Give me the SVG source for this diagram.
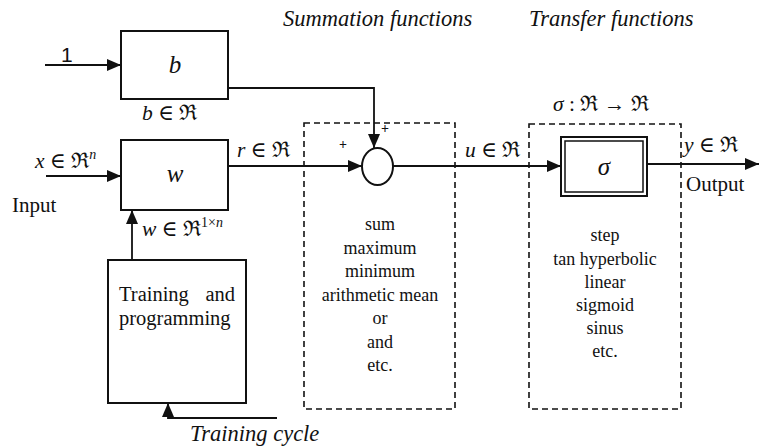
<svg xmlns="http://www.w3.org/2000/svg" width="761" height="447" viewBox="0 0 761 447">
<style>
text{font-family:"Liberation Serif","DejaVu Serif",serif;fill:#111;}
.it{font-style:italic;}
.m{font-size:21.5px;font-style:italic;}
.lst{font-size:18px;text-anchor:middle;}
.box{fill:#fff;stroke:#111;stroke-width:2;}
.dash{fill:none;stroke:#111;stroke-width:1.6;stroke-dasharray:6 4;}
.ln{fill:none;stroke:#111;stroke-width:1.8;}
</style>
<defs>
<marker id="ah" markerUnits="userSpaceOnUse" markerWidth="14" markerHeight="12" viewBox="0 0 14 12" refX="14" refY="6" orient="auto">
<path d="M0,0 L14,6 L0,12 Z" fill="#111"/>
</marker>
</defs>
<rect width="761" height="447" fill="#fff"/>

<text class="it" x="283" y="26" font-size="22.5">Summation functions</text>
<text class="it" x="529" y="26" font-size="22.5">Transfer functions</text>

<g id="summation-region">
<rect class="dash" x="304" y="123" width="151" height="286"/>
<text class="lst" x="380" y="230">sum</text>
<text class="lst" x="380" y="254">maximum</text>
<text class="lst" x="380" y="277">minimum</text>
<text class="lst" x="380" y="301">arithmetic mean</text>
<text class="lst" x="380" y="324">or</text>
<text class="lst" x="380" y="348">and</text>
<text class="lst" x="380" y="371">etc.</text>
</g>

<g id="transfer-region">
<rect class="dash" x="529" y="124" width="152" height="285"/>
<text class="lst" x="605" y="241">step</text>
<text class="lst" x="605" y="265">tan hyperbolic</text>
<text class="lst" x="605" y="288">linear</text>
<text class="lst" x="605" y="311">sigmoid</text>
<text class="lst" x="605" y="334">sinus</text>
<text class="lst" x="605" y="357">etc.</text>
</g>

<g id="connectors">
<path class="ln" d="M45,65 H121" marker-end="url(#ah)"/>
<path class="ln" d="M228,88 H374 V148" marker-end="url(#ah)"/>
<path class="ln" d="M46,176 H121" marker-end="url(#ah)"/>
<path class="ln" d="M228,166 H362" marker-end="url(#ah)"/>
<path class="ln" d="M132,260 V210" marker-end="url(#ah)"/>
<path class="ln" d="M277,418 H168 V403" marker-end="url(#ah)"/>
<path class="ln" d="M393,166 H561" marker-end="url(#ah)"/>
<path class="ln" d="M647,164 H759" marker-end="url(#ah)"/>
</g>

<g id="node-b">
<rect class="box" x="121" y="31" width="107" height="68"/>
<text class="it" x="175" y="73" font-size="25" text-anchor="middle">b</text>
</g>

<g id="node-w">
<rect class="box" x="121" y="140" width="107" height="70"/>
<text class="it" x="175" y="182" font-size="25" text-anchor="middle">w</text>
</g>

<g id="node-training">
<rect class="box" x="108" y="260" width="138" height="143"/>
<text x="119" y="301" font-size="20.5">Training</text>
<text x="235" y="301" font-size="20.5" text-anchor="end">and</text>
<text x="119" y="325" font-size="20.5">programming</text>
</g>

<g id="node-sum">
<ellipse cx="377.5" cy="166.5" rx="15.5" ry="18.5" fill="#fff" stroke="#111" stroke-width="2"/>
<text x="343" y="149" font-size="14" font-weight="bold" text-anchor="middle">+</text>
<text x="385" y="133" font-size="14" font-weight="bold" text-anchor="middle">+</text>
</g>

<g id="node-sigma">
<rect class="box" x="561" y="137" width="86" height="59"/>
<rect x="565" y="141" width="78" height="51" fill="none" stroke="#111" stroke-width="1.5"/>
<text class="it" x="604" y="175" font-size="25" text-anchor="middle">σ</text>
</g>

<g id="labels">
<text x="61" y="62" font-size="21" style="font-family:'Liberation Sans',sans-serif">1</text>
<text class="m" x="142" y="120">b <tspan font-style="normal">∈ ℜ</tspan></text>
<text class="m" x="35" y="168">x <tspan font-style="normal">∈ ℜ</tspan><tspan font-size="14" dy="-9">n</tspan></text>
<text x="12" y="212" font-size="21">Input</text>
<text class="m" x="142" y="236">w <tspan font-style="normal">∈ ℜ</tspan><tspan font-size="14" dy="-9" font-style="normal">1×</tspan><tspan font-size="14">n</tspan></text>
<text class="m" x="237" y="157">r <tspan font-style="normal">∈ ℜ</tspan></text>
<text class="m" x="465" y="157">u <tspan font-style="normal">∈ ℜ</tspan></text>
<text class="m" x="553" y="111">σ <tspan font-style="normal">: ℜ  →  ℜ</tspan></text>
<text class="m" x="684" y="152">y <tspan font-style="normal">∈ ℜ</tspan></text>
<text x="686" y="191" font-size="21">Output</text>
<text class="it" x="190" y="441" font-size="22.5">Training cycle</text>
</g>
</svg>
